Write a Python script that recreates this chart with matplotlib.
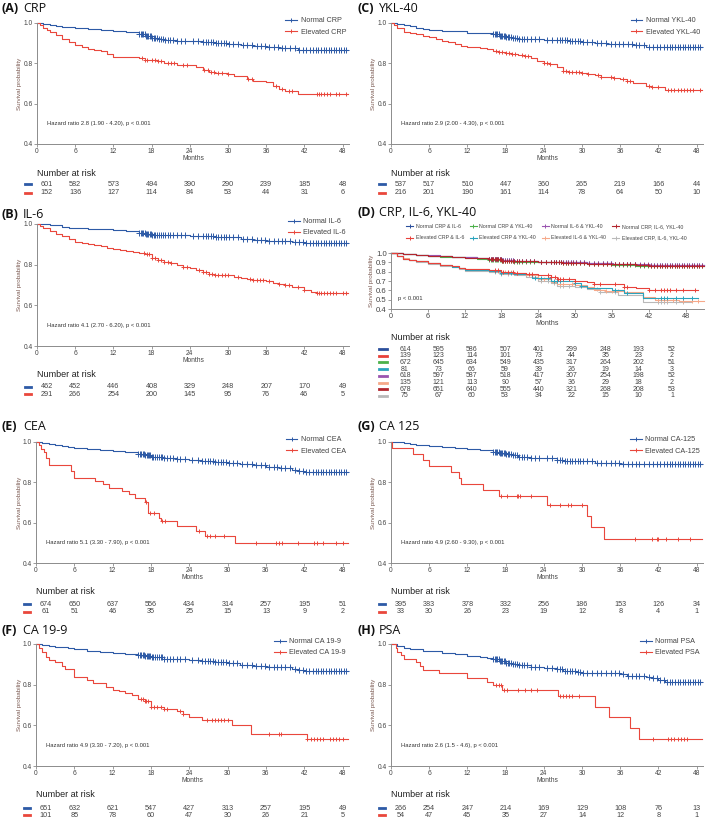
import numpy as np
import matplotlib
matplotlib.use("Agg")
import matplotlib.pyplot as plt
from matplotlib.lines import Line2D
from matplotlib.transforms import blended_transform_factory

plt.rcParams['font.family'] = ['Liberation Sans', 'DejaVu Sans']

W, H = 709, 821
BLUE = '#2d5aa6'
RED = '#e9473c'
GREY_TXT = '#444444'
AXIS_COL = '#8c8c8c'

# ---------------- data ----------------
# censoring times shared by the large "normal" groups (dense marks)
normal_censor = [16.0, 16.3, 16.5, 16.7, 16.9, 17.1, 17.3, 17.5, 17.7, 17.9, 18.1, 18.3,
                 18.6, 18.9, 19.2, 19.5, 19.8, 20.1, 20.5, 20.9, 21.4, 22.0, 22.6, 23.3,
                 24.5, 25.3, 26.0, 26.5, 26.9, 27.3, 27.7, 28.1, 28.5, 28.9, 29.3, 29.7,
                 30.2, 30.8, 31.5, 32.3, 33.0, 33.8, 34.5, 35.2, 35.8, 36.5, 37.2, 37.8,
                 38.4, 39.0, 39.7, 40.5, 41.2, 41.8, 42.3, 42.8, 43.3, 43.8, 44.2, 44.6,
                 45.0, 45.4, 45.8, 46.2, 46.6, 47.0, 47.4, 47.8, 48.2, 48.6]
d_normal_censor = normal_censor + [49.0, 49.4, 49.8, 50.2, 50.6]

months_ticks = [0, 6, 12, 18, 24, 30, 36, 42, 48]

# (A) CRP
crp_n_t = [0, 1, 2, 3, 4, 5, 6, 8, 10, 12, 14, 16, 17, 18, 19, 20, 22, 24, 26, 28, 30, 32, 34, 36, 38, 40, 41, 42, 48.9]
crp_n_s = [1, .995, .99, .986, .982, .978, .975, .97, .965, .96, .955, .945, .935, .928, .922, .918, .912, .91, .905, .9, .897, .892, .886, .882, .878, .874, .868, .866, .866]
crp_e_t = [0, 0.5, 1, 1.5, 2, 3, 4, 5, 6, 7, 8, 9, 10, 11, 12, 16, 17, 19, 20, 22, 25, 26, 27, 28, 30, 31, 33, 34, 36, 37, 38, 39, 41, 48.9]
crp_e_s = [1, .99, .975, .965, .955, .94, .92, .905, .89, .88, .87, .865, .86, .845, .833, .825, .815, .81, .80, .79, .78, .765, .755, .75, .745, .735, .72, .71, .705, .69, .675, .665, .648, .648]
crp_e_c = [16.5, 17, 17.3, 18, 18.5, 19, 19.5, 20.5, 21, 21.5, 23, 23.5, 26.2, 26.8, 27.3, 27.8, 28.5, 29, 30,
           33.2, 33.8, 37.5, 38.5, 39.5, 40, 44, 44.3, 44.6, 45, 45.5, 46, 47, 47.5, 48.5]
crp_risk_n = [601, 582, 573, 494, 390, 290, 239, 185, 48]
crp_risk_e = [152, 136, 127, 114, 84, 53, 44, 31, 6]

# (B) IL-6
il6_n_t = [0, 1, 2, 3, 4, 5, 6, 8, 10, 12, 14, 16, 17, 18, 20, 22, 24, 26, 28, 30, 32, 34, 36, 38, 40, 42, 48.9]
il6_n_s = [1, .998, .996, .993, .987, .982, .98, .977, .974, .97, .966, .958, .952, .948, .946, .944, .942, .94, .938, .934, .925, .92, .917, .915, .91, .908, .908]
il6_e_t = [0, 0.5, 1, 2, 3, 4, 5, 6, 7, 8, 9, 10, 11, 12, 13, 14, 15, 16, 17, 18, 19, 20, 21, 22, 23, 24, 25, 26, 27, 28,
           30, 31, 32, 33, 34, 36, 37, 38, 39, 40, 42, 43, 44, 48.9]
il6_e_s = [1, .99, .98, .965, .95, .94, .925, .91, .905, .9, .895, .89, .88, .875, .87, .865, .862, .858, .85, .835, .825,
           .815, .81, .80, .79, .785, .775, .765, .755, .75, .748, .74, .735, .73, .725, .72, .71, .705, .70, .69, .675, .665, .66, .66]
il6_e_c = [16.8, 17.2, 17.6, 18, 18.5, 19, 19.5, 20, 20.5, 21, 23, 23.5, 25.5, 26, 26.5, 27, 27.5, 28, 28.5, 29, 29.5, 30,
           31.5, 33.5, 34, 34.5, 35, 35.5, 36.5, 38, 39, 39.5, 41, 42, 44, 44.3, 44.6, 45, 45.5, 46, 46.5, 47, 48, 48.5]
il6_risk_n = [462, 452, 446, 408, 329, 248, 207, 170, 49]
il6_risk_e = [291, 266, 254, 200, 145, 95, 76, 46, 5]

# (C) YKL-40
ykl_n_t = [0, 1, 2, 3, 4, 5, 6, 8, 10, 12, 14, 16, 17, 18, 19, 20, 22, 24, 26, 28, 30, 32, 34, 36, 38, 40, 48.9]
ykl_n_s = [1, .995, .99, .985, .976, .97, .965, .962, .958, .952, .948, .943, .938, .93, .925, .92, .919, .918, .915, .912, .906, .9, .897, .895, .89, .88, .88]
ykl_e_t = [0, 0.5, 1, 2, 3, 4, 5, 6, 7, 8, 9, 10, 11, 12, 14, 15, 16, 17, 18, 19, 20, 21, 22, 23, 24, 25, 26, 27, 28, 30,
           31, 32, 33, 35, 36, 37, 38, 40, 41, 43, 48.9]
ykl_e_s = [1, .99, .975, .955, .95, .945, .935, .93, .92, .912, .905, .895, .885, .88, .875, .87, .86, .855, .85, .845, .84,
           .835, .825, .81, .80, .795, .78, .76, .755, .75, .745, .74, .73, .725, .72, .712, .70, .69, .685, .67, .67]
ykl_e_c = [16.5, 17, 17.5, 18, 18.5, 19, 19.5, 20.5, 21, 21.5, 24, 24.5, 25, 27, 27.5, 28, 28.5, 29, 29.5, 30, 31,
           32.5, 33, 34.5, 35, 36.5, 37, 37.5, 40.5, 41, 42, 43.5, 44, 44.5, 45, 45.5, 46, 46.5, 47, 47.5, 48.5]
ykl_risk_n = [537, 517, 510, 447, 360, 265, 219, 166, 44]
ykl_risk_e = [216, 201, 190, 161, 114, 78, 64, 50, 10]

# (D) CRP, IL-6, YKL-40 combinations
comb_labels = ['Normal CRP & IL-6', 'Elevated CRP & IL-6', 'Normal CRP & YKL-40', 'Elevated CRP & YKL-40',
               'Normal IL-6 & YKL-40', 'Elevated IL-6 & YKL-40', 'Normal CRP, IL-6, YKL-40', 'Elevated CRP, IL-6, YKL-40']
comb_colors = ['#2b4f9c', '#e8413a', '#4cb14a', '#2aa3bd', '#9a55b0', '#f6a98a', '#b2262e', '#b9b9b9']
comb_norm_t = [0, 2, 4, 6, 8, 10, 12, 14, 16, 18, 20, 24, 28, 32, 36, 40, 42, 51]
comb_n1_s = [1, .99, .98, .972, .965, .958, .952, .945, .935, .92, .912, .905, .9, .89, .882, .875, .87, .87]
comb_n2_s = [1, .99, .978, .97, .962, .955, .948, .94, .93, .915, .908, .9, .894, .885, .875, .865, .86, .86]
comb_n3_s = [1, .99, .982, .974, .967, .96, .954, .946, .936, .922, .915, .908, .902, .893, .885, .878, .873, .873]
comb_n4_s = [1, .99, .979, .971, .963, .956, .95, .942, .932, .917, .91, .902, .896, .887, .878, .868, .862, .862]
comb_e1_t = [0, 1, 2, 3, 4, 6, 8, 10, 11, 12, 16, 18, 20, 22, 24, 26, 27, 30, 32, 33, 36, 38, 40, 42, 50]
comb_e1_s = [1, .97, .94, .92, .91, .895, .875, .86, .84, .825, .815, .80, .79, .77, .76, .74, .72, .70, .685, .67, .665, .64, .62, .60, .60]
comb_e2_t = [0, 1, 2, 3, 4, 6, 8, 10, 11, 12, 16, 18, 20, 23, 24, 26, 30, 31, 32, 36, 38, 41, 50]
comb_e2_s = [1, .97, .94, .92, .91, .89, .87, .85, .835, .815, .805, .79, .78, .735, .73, .70, .68, .65, .62, .60, .57, .52, .52]
comb_e3_t = [0, 1, 2, 3, 4, 6, 8, 10, 11, 12, 16, 18, 20, 22, 24, 26, 27, 30, 32, 33, 35, 38, 41, 43, 47, 51]
comb_e3_s = [1, .97, .945, .925, .915, .895, .875, .86, .84, .825, .81, .80, .79, .76, .72, .69, .67, .66, .64, .60, .59, .58, .53, .50, .49, .49]
comb_e4_t = [0, 1, 2, 3, 4, 6, 8, 10, 11, 12, 16, 18, 20, 22, 24, 26, 27, 30, 32, 34, 37, 41, 49]
comb_e4_s = [1, .97, .94, .92, .905, .885, .865, .85, .83, .81, .80, .78, .765, .74, .70, .675, .65, .64, .61, .58, .55, .48, .48]
comb_e1_c = [17, 17.5, 18.2, 19, 19.8, 20.5, 22.5, 23, 25.5, 26, 26.8, 27.2, 27.6, 28, 29, 30, 33, 34, 36.5, 38, 38.5,
             42, 43, 44, 44.5, 45, 45.5, 46.5, 47.5, 49.5]
comb_e2_c = [17, 18, 19.5, 23.5, 24.5, 25.5, 26.5, 27, 27.5, 30, 31, 36.5, 38.5, 44, 44.5, 45, 46.5, 47.5, 49]
comb_e3_c = [17.5, 18.5, 19.5, 24.5, 25, 26.5, 27.5, 28, 29.5, 35, 36, 37, 43.5, 44.5, 45, 46, 47.5, 49, 50]
comb_e4_c = [17, 18, 19, 23.5, 24.5, 25.5, 26.5, 27.5, 28, 29, 33.5, 34, 36.5, 43.5, 44, 44.5, 45, 46.5, 47.5]
comb_risk = [[614, 595, 586, 507, 401, 299, 248, 193, 52],
             [139, 123, 114, 101, 73, 44, 35, 23, 2],
             [672, 645, 634, 549, 435, 317, 264, 202, 51],
             [81, 73, 66, 59, 39, 26, 19, 14, 3],
             [618, 597, 587, 518, 417, 307, 254, 198, 52],
             [135, 121, 113, 90, 57, 36, 29, 18, 2],
             [678, 651, 640, 555, 440, 321, 268, 208, 53],
             [75, 67, 60, 53, 34, 22, 15, 10, 1]]

# (E) CEA
cea_n_t = [0, 1, 2, 3, 4, 5, 6, 8, 10, 12, 14, 16, 17, 18, 20, 22, 24, 26, 28, 30, 32, 34, 36, 38, 40, 41, 42, 48.9]
cea_n_s = [1, .996, .99, .985, .98, .975, .97, .965, .96, .955, .948, .942, .935, .928, .922, .917, .912, .907, .9, .895, .89, .884, .877, .87, .862, .857, .852, .85]
cea_e_t = [0, 0.4, 0.8, 1.2, 1.6, 2, 5.5, 6, 9.2, 10.5, 11.5, 13.5, 14.5, 15.5, 17, 17.6, 19.3, 19.6, 22, 25, 26.5, 31.2, 48.9]
cea_e_s = [1, .985, .965, .95, .92, .885, .855, .82, .805, .79, .77, .755, .74, .72, .70, .65, .625, .61, .585, .56, .535, .50, .50]
cea_e_c = [17.2, 17.8, 18.5, 19.8, 20.2, 25.5, 26.8, 27.2, 28, 29.5, 34.5, 37.5, 38, 38.5, 41, 43.5, 44, 45, 47, 48]
cea_risk_n = [674, 650, 637, 556, 434, 314, 257, 195, 51]
cea_risk_e = [61, 51, 46, 35, 25, 15, 13, 9, 2]

# (G) CA 125
ca125_n_t = [0, 1, 2, 3, 4, 6, 8, 10, 12, 14, 16, 17, 18, 19, 20, 22, 24, 26, 27, 28, 30, 32, 34, 36, 38, 48.9]
ca125_n_s = [1, .998, .993, .99, .985, .98, .975, .97, .965, .958, .95, .945, .94, .935, .925, .922, .92, .912, .908, .906, .905, .895, .895, .893, .89, .89]
ca125_e_t = [0, 0.2, 3.5, 5, 6, 9.5, 10.7, 11, 14.5, 17, 24.5, 30.8, 31.4, 33.4, 48.9]
ca125_e_s = [1, .97, .94, .91, .88, .85, .82, .79, .76, .73, .69, .635, .577, .518, .518]
ca125_e_c = [17.3, 18.2, 19.8, 20, 20.2, 22, 25, 26.5, 27.8, 28.3, 30, 38.3, 41, 41.8, 42, 43.2, 45, 47]
ca125_risk_n = [395, 383, 378, 332, 256, 186, 153, 126, 34]
ca125_risk_e = [33, 30, 26, 23, 19, 12, 8, 4, 1]

# (F) CA 19-9
ca199_n_t = [0, 1, 2, 3, 4, 5, 6, 8, 10, 12, 14, 16, 17, 18, 20, 22, 24, 26, 28, 30, 32, 34, 36, 38, 40, 41, 42, 48.9]
ca199_n_s = [1, .997, .992, .987, .983, .979, .975, .968, .963, .958, .953, .945, .94, .935, .928, .924, .92, .915, .91, .905, .898, .892, .889, .885, .876, .87, .867, .866]
ca199_e_t = [0, 0.5, 1, 1.5, 2, 3, 4, 4.5, 6, 8, 9, 11, 12, 13, 14, 15, 16, 17, 18, 20, 22, 23, 24, 26, 30.7, 33.7, 42.5, 48.9]
ca199_e_s = [1, .98, .96, .935, .92, .91, .89, .875, .84, .825, .81, .79, .775, .77, .76, .75, .73, .72, .69, .68, .67, .655, .64, .625, .60, .558, .533, .533]
ca199_e_c = [16.5, 16.8, 17, 17.2, 17.5, 18, 18.5, 19, 19.5, 20, 20.5, 22.5, 23, 26.8, 27.5, 28, 28.5, 29, 29.5, 30.1,
             36.5, 38, 38.4, 42.5, 43, 43.5, 44, 44.5, 45, 46, 46.5, 47, 47.5, 48]
ca199_risk_n = [651, 632, 621, 547, 427, 313, 257, 195, 49]
ca199_risk_e = [101, 85, 78, 60, 47, 30, 26, 21, 5]

# (H) PSA
psa_n_t = [0, 1, 2, 3, 5, 8, 10, 12, 14, 15, 16, 17, 18, 19, 20, 22, 24, 26, 27, 29, 30, 33, 36, 37, 40, 41, 42, 43, 48.9]
psa_n_s = [1, .99, .982, .975, .965, .958, .95, .94, .935, .93, .925, .915, .908, .903, .897, .888, .882, .877, .868, .862, .857, .855, .852, .845, .84, .832, .825, .815, .812]
psa_e_t = [0, 0.8, 1, 1.5, 2, 4, 4.5, 5, 7.5, 12, 15, 16, 17.5, 26.3, 32, 34.3, 37.5, 39, 48.9]
psa_e_s = [1, .98, .96, .945, .928, .91, .89, .872, .855, .832, .815, .796, .776, .745, .692, .64, .586, .535, .535]
psa_e_c = [16.5, 17, 17.3, 17.8, 18.2, 20, 21, 22, 23, 26.5, 27, 27.5, 28, 28.5, 29.5, 41.2, 43.5, 44, 44.5, 45, 45.5, 46, 46.5]
psa_risk_n = [266, 254, 247, 214, 169, 129, 108, 76, 13]
psa_risk_e = [54, 47, 45, 35, 27, 14, 12, 8, 1]

# ---------------- drawing ----------------
fig = plt.figure(figsize=(W / 100, H / 100), dpi=100)


def fx(px):
    return px / W


def fy(py):
    return 1 - py / H


def km_at(t, s, x):
    idx = np.searchsorted(np.asarray(t), np.asarray(x), side='right') - 1
    return np.asarray(s)[idx]


def draw_curve(ax, t, s, cens, color, ms=3.5):
    ax.step(t, s, where='post', color=color, lw=0.8, clip_on=False)
    c = np.asarray(cens)
    ax.plot(c, km_at(t, s, c), ls='none', marker='+', ms=ms, mew=0.7, color=color, clip_on=False)


def make_axes(box, xmax, yticks, ylab_x=17, ylab_fs=4.5, ytick_fs=4.8, xtick_fs=4.8):
    left, right, top, bottom = box
    ax = fig.add_axes([fx(left), fy(bottom), (right - left) / W, (bottom - top) / H])
    ax.set_xlim(0, xmax)
    ax.set_ylim(0.4, 1.0)
    ax.set_xticks(months_ticks)
    ax.set_yticks(yticks)
    ax.set_yticklabels(['%.1f' % v for v in yticks])
    for sp in ['top', 'right']:
        ax.spines[sp].set_visible(False)
    for sp in ['left', 'bottom']:
        ax.spines[sp].set_color(AXIS_COL)
        ax.spines[sp].set_linewidth(0.7)
    ax.tick_params(axis='both', length=2, width=0.6, color=AXIS_COL, labelcolor=GREY_TXT, pad=1)
    ax.tick_params(axis='y', labelsize=ytick_fs)
    ax.tick_params(axis='x', labelsize=xtick_fs)
    fig.text(fx(left - ylab_x), fy((top + bottom) / 2), 'Survival probability', rotation=90,
             ha='center', va='center', fontsize=ylab_fs, color='#7b5a52')
    return ax


def panel_title(x, y, tag, name):
    fig.text(fx(x), fy(y), tag, fontsize=9, fontweight='bold', family='Open Sans', va='center', color='#111111')
    fig.text(fx(x + 21), fy(y), name, fontsize=9, family='Open Sans', va='center', color='#111111')


def risk_table(tab_ax, dash_x, title_x, nar_y, rows, risks, colors, col_months, fs=5.2):
    fig.text(fx(title_x), fy(nar_y), 'Number at risk', fontsize=6.5, va='center', color='#222222')
    tr = blended_transform_factory(tab_ax.transData, fig.transFigure)
    for ry, vals, col in zip(rows, risks, colors):
        fig.add_artist(Line2D([fx(dash_x[0]), fx(dash_x[1])], [fy(ry), fy(ry)], color=col, lw=2.0,
                              transform=fig.transFigure))
        for m, v in zip(col_months, vals):
            fig.text(m, fy(ry), str(v), transform=tr, ha='center', va='center', fontsize=fs, color=GREY_TXT)


# first risk column sits a little right of month 0 in the two-group tables
two_group_cols = [1.5, 6, 12, 18, 24, 30, 36, 42, 48]


def two_group_panel(tag, name, title_xy, box, months_y, nar_y, rows, nt, ns, et, es, ec,
                    risk_n, risk_e, lab_n, lab_e, hr_text):
    panel_title(title_xy[0], title_xy[1], tag, name)
    ax = make_axes(box, 49, [0.4, 0.6, 0.8, 1.0])
    draw_curve(ax, nt, ns, normal_censor, BLUE, ms=4.0)
    draw_curve(ax, et, es, ec, RED)
    handles = [Line2D([], [], color=BLUE, lw=0.8, marker='+', ms=3.5, mew=0.7),
               Line2D([], [], color=RED, lw=0.8, marker='+', ms=3.5, mew=0.7)]
    ax.legend(handles, [lab_n, lab_e], loc='upper right', bbox_to_anchor=(1.0, 1.07), frameon=False,
              fontsize=5.2, handlelength=1.6, handletextpad=0.5, labelspacing=0.55, borderaxespad=0,
              labelcolor=GREY_TXT)
    ax.text(1.5, 0.5, hr_text, fontsize=4.2, va='center', color='#333333')
    fig.text(fx((box[0] + box[1]) / 2), fy(months_y), 'Months', ha='center', va='center',
             fontsize=4.8, color=GREY_TXT)
    left = box[0]
    risk_table(ax, (left - 12, left - 6), left, nar_y, rows, [risk_n, risk_e], [BLUE, RED], two_group_cols)
    return ax


two_group_panel('(A)', 'CRP', (2, 9), (37, 349, 23, 144), 158, 173, [184.5, 192.5],
                crp_n_t, crp_n_s, crp_e_t, crp_e_s, crp_e_c, crp_risk_n, crp_risk_e,
                'Normal CRP', 'Elevated CRP', 'Hazard ratio 2.8 (1.90 - 4.20), p < 0.001')
two_group_panel('(B)', 'IL-6', (2, 214), (37, 349, 224, 346), 360, 374, [387, 394.5],
                il6_n_t, il6_n_s, il6_e_t, il6_e_s, il6_e_c, il6_risk_n, il6_risk_e,
                'Normal IL-6', 'Elevated IL-6', 'Hazard ratio 4.1 (2.70 - 6.20), p < 0.001')
two_group_panel('(C)', 'YKL-40', (358, 9), (391, 703, 23, 144), 158, 173, [184.5, 192.5],
                ykl_n_t, ykl_n_s, ykl_e_t, ykl_e_s, ykl_e_c, ykl_risk_n, ykl_risk_e,
                'Normal YKL-40', 'Elevated YKL-40', 'Hazard ratio 2.9 (2.00 - 4.30), p < 0.001')
two_group_panel('(E)', 'CEA', (2, 426), (36, 349, 442, 563), 577, 592, [604, 611.5],
                cea_n_t, cea_n_s, cea_e_t, cea_e_s, cea_e_c, cea_risk_n, cea_risk_e,
                'Normal CEA', 'Elevated CEA', 'Hazard ratio 5.1 (3.30 - 7.90), p < 0.001')
two_group_panel('(G)', 'CA 125', (358, 426), (391, 703, 442, 563), 577, 592, [604, 611.5],
                ca125_n_t, ca125_n_s, ca125_e_t, ca125_e_s, ca125_e_c, ca125_risk_n, ca125_risk_e,
                'Normal CA-125', 'Elevated CA-125', 'Hazard ratio 4.9 (2.60 - 9.30), p < 0.001')
two_group_panel('(F)', 'CA 19-9', (2, 630), (36, 349, 644, 766), 780, 794, [808, 815],
                ca199_n_t, ca199_n_s, ca199_e_t, ca199_e_s, ca199_e_c, ca199_risk_n, ca199_risk_e,
                'Normal CA 19-9', 'Elevated CA 19-9', 'Hazard ratio 4.9 (3.30 - 7.20), p < 0.001')
two_group_panel('(H)', 'PSA', (358, 630), (391, 703, 644, 766), 780, 794, [808, 815],
                psa_n_t, psa_n_s, psa_e_t, psa_e_s, psa_e_c, psa_risk_n, psa_risk_e,
                'Normal PSA', 'Elevated PSA', 'Hazard ratio 2.6 (1.5 - 4.6), p < 0.001')

# panel D
d_box = (391, 704, 253, 309)
panel_title(358, 213, '(D)', 'CRP, IL-6, YKL-40')
axd = make_axes(d_box, 51, [0.4, 0.5, 0.6, 0.7, 0.8, 0.9, 1.0], ylab_x=19, ylab_fs=4.5,
                ytick_fs=5.6, xtick_fs=5.2)
comb_curves = [(comb_norm_t, comb_n1_s, d_normal_censor), (comb_e1_t, comb_e1_s, comb_e1_c),
               (comb_norm_t, comb_n2_s, d_normal_censor), (comb_e2_t, comb_e2_s, comb_e2_c),
               (comb_norm_t, comb_n3_s, d_normal_censor), (comb_e3_t, comb_e3_s, comb_e3_c),
               (comb_norm_t, comb_n4_s, d_normal_censor), (comb_e4_t, comb_e4_s, comb_e4_c)]
draw_order = [0, 2, 4, 6, 7, 5, 3, 1]
for i in draw_order:
    t, s, c = comb_curves[i]
    draw_curve(axd, t, s, c, comb_colors[i], ms=3.0)
d_handles = [Line2D([], [], color=c, lw=0.8, marker='+', ms=3.0, mew=0.7) for c in comb_colors]
fig.legend(d_handles, comb_labels, loc='upper left', bbox_to_anchor=(fx(404), fy(222)), ncol=4,
           frameon=False, fontsize=3.8, handlelength=1.3, handletextpad=0.5, columnspacing=1.1,
           labelspacing=1.2, borderaxespad=0, labelcolor=GREY_TXT)
axd.text(1.2, 0.51, 'p < 0.001', fontsize=4.2, va='center', color='#333333')
fig.text(fx((d_box[0] + d_box[1]) / 2), fy(323), 'Months', ha='center', va='center', fontsize=5.0, color=GREY_TXT)

# the risk table of panel D has its own, narrower month scale
d_tab = fig.add_axes([fx(405), fy(400), (672 - 405) / W, 0.001])
d_tab.set_xlim(0, 48)
d_tab.axis('off')
d_rows = [349, 355.7, 362.4, 369.1, 375.8, 382.5, 389.2, 395.9]
risk_table(d_tab, (379, 387), 391, 337.5, d_rows, comb_risk, comb_colors, months_ticks, fs=5.0)

fig.savefig('out.png', dpi=100)
